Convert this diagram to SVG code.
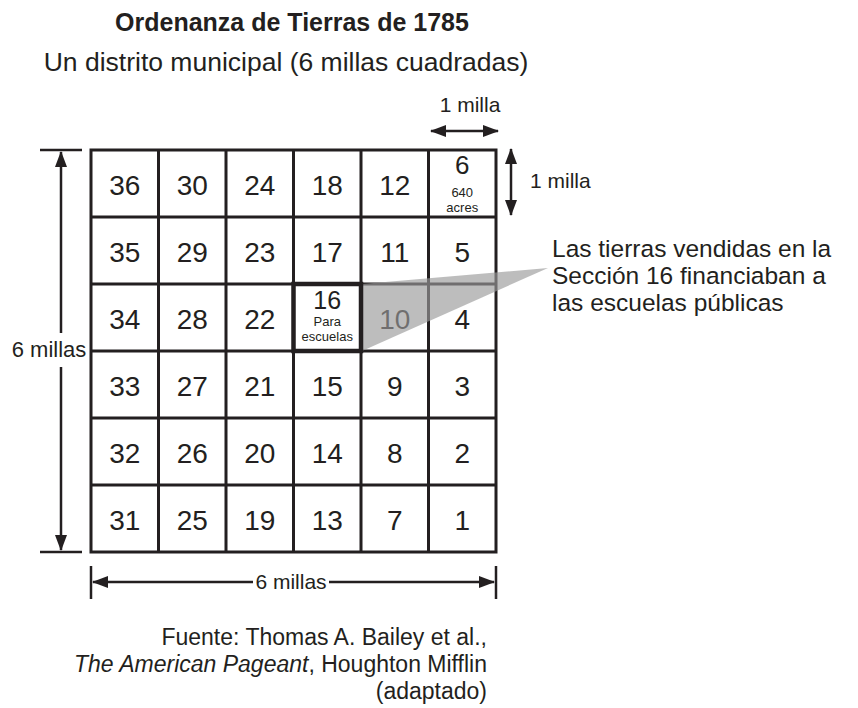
<svg xmlns="http://www.w3.org/2000/svg" width="858" height="708" viewBox="0 0 858 708">
<style>
text{font-family:"Liberation Sans",Arial,Helvetica,sans-serif;fill:#231f20}
.num{font-size:28px;text-anchor:middle}
.small{font-size:13px;text-anchor:middle}
.lbl{font-size:21px}
.cell{fill:none;stroke:#231f20;stroke-width:3}
.dim{stroke:#231f20;stroke-width:2.5;fill:none}
.tick{stroke:#231f20;stroke-width:2.5}
</style>
<defs>
<marker id="ah" viewBox="0 0 16 12" refX="15" refY="6" markerWidth="16" markerHeight="12" markerUnits="userSpaceOnUse" orient="auto-start-reverse">
<path d="M0,0 L16,6 L0,12 z" fill="#231f20"/>
</marker>
</defs>
<rect width="858" height="708" fill="#fff"/>
<g id="title">
<text x="292" y="31" style="font-size:25px;font-weight:bold" text-anchor="middle">Ordenanza de Tierras de 1785</text>
<text x="286" y="71" style="font-size:26.5px" text-anchor="middle">Un distrito municipal (6 millas cuadradas)</text>
</g>
<g id="grid">
<rect class="cell" x="91" y="150" width="405" height="402"/>
<path class="cell" d="M158.5,150V552M226,150V552M293.5,150V552M361,150V552M428.5,150V552M91,217H496M91,284H496M91,351H496M91,418H496M91,485H496"/>
</g>
<g id="cells">
<g id="r1"><text class="num" x="124.75" y="195">36</text><text class="num" x="192.25" y="195">30</text><text class="num" x="259.75" y="195">24</text><text class="num" x="327.25" y="195">18</text><text class="num" x="394.75" y="195">12</text></g>
<g id="c6"><text class="num" x="462.25" y="174" style="font-size:26px">6</text><text class="small" x="462.25" y="197">640</text><text class="small" x="462.25" y="212">acres</text></g>
<g id="r2"><text class="num" x="124.75" y="262">35</text><text class="num" x="192.25" y="262">29</text><text class="num" x="259.75" y="262">23</text><text class="num" x="327.25" y="262">17</text><text class="num" x="394.75" y="262">11</text><text class="num" x="462.25" y="262">5</text></g>
<g id="r3"><text class="num" x="124.75" y="329">34</text><text class="num" x="192.25" y="329">28</text><text class="num" x="259.75" y="329">22</text><text class="num" x="394.75" y="329">10</text><text class="num" x="462.25" y="329">4</text></g>
<g id="r4"><text class="num" x="124.75" y="396">33</text><text class="num" x="192.25" y="396">27</text><text class="num" x="259.75" y="396">21</text><text class="num" x="327.25" y="396">15</text><text class="num" x="394.75" y="396">9</text><text class="num" x="462.25" y="396">3</text></g>
<g id="r5"><text class="num" x="124.75" y="463">32</text><text class="num" x="192.25" y="463">26</text><text class="num" x="259.75" y="463">20</text><text class="num" x="327.25" y="463">14</text><text class="num" x="394.75" y="463">8</text><text class="num" x="462.25" y="463">2</text></g>
<g id="r6"><text class="num" x="124.75" y="530">31</text><text class="num" x="192.25" y="530">25</text><text class="num" x="259.75" y="530">19</text><text class="num" x="327.25" y="530">13</text><text class="num" x="394.75" y="530">7</text><text class="num" x="462.25" y="530">1</text></g>
</g>
<g id="callout">
<polygon points="362,284 548,268 362,351" fill="#999" fill-opacity="0.65"/>
<text style="font-size:24.5px"><tspan x="552" y="257">Las tierras vendidas en la</tspan><tspan x="552" y="284">Sección 16 financiaban a</tspan><tspan x="552" y="311">las escuelas públicas</tspan></text>
</g>
<g id="c16">
<rect x="293.5" y="284" width="67.5" height="67" fill="none" stroke="#231f20" stroke-width="4.5"/>
<text class="num" x="327.25" y="309" style="font-size:25px">16</text>
<text class="small" x="327.25" y="326">Para</text>
<text class="small" x="327.25" y="341">escuelas</text>
</g>
<g id="connectors">
<line class="dim" x1="431" y1="131" x2="498" y2="131" marker-start="url(#ah)" marker-end="url(#ah)"/>
<line class="dim" x1="511" y1="149" x2="511" y2="215" marker-start="url(#ah)" marker-end="url(#ah)"/>
<line class="tick" x1="40" y1="150" x2="82" y2="150"/>
<line class="tick" x1="40" y1="552" x2="82" y2="552"/>
<line class="dim" x1="61" y1="152" x2="61" y2="333" marker-start="url(#ah)"/>
<line class="dim" x1="61" y1="367" x2="61" y2="550" marker-end="url(#ah)"/>
<line class="tick" x1="91" y1="566" x2="91" y2="599"/>
<line class="tick" x1="496" y1="566" x2="496" y2="599"/>
<line class="dim" x1="93" y1="582" x2="253" y2="582" marker-start="url(#ah)"/>
<line class="dim" x1="329" y1="582" x2="494" y2="582" marker-end="url(#ah)"/>
</g>
<g id="labels">
<text class="lbl" x="470" y="112" text-anchor="middle">1 milla</text>
<text class="lbl" x="530" y="188">1 milla</text>
<text class="lbl" x="49" y="357" text-anchor="middle" style="font-size:22px">6 millas</text>
<text class="lbl" x="291" y="589" text-anchor="middle">6 millas</text>
</g>
<g id="source" text-anchor="end">
<text x="487" y="645" style="font-size:23px">Fuente: Thomas A. Bailey et al.,</text>
<text x="487" y="672" style="font-size:23px"><tspan font-style="italic">The American Pageant</tspan>, Houghton Mifflin</text>
<text x="487" y="699" style="font-size:23px">(adaptado)</text>
</g>
</svg>
